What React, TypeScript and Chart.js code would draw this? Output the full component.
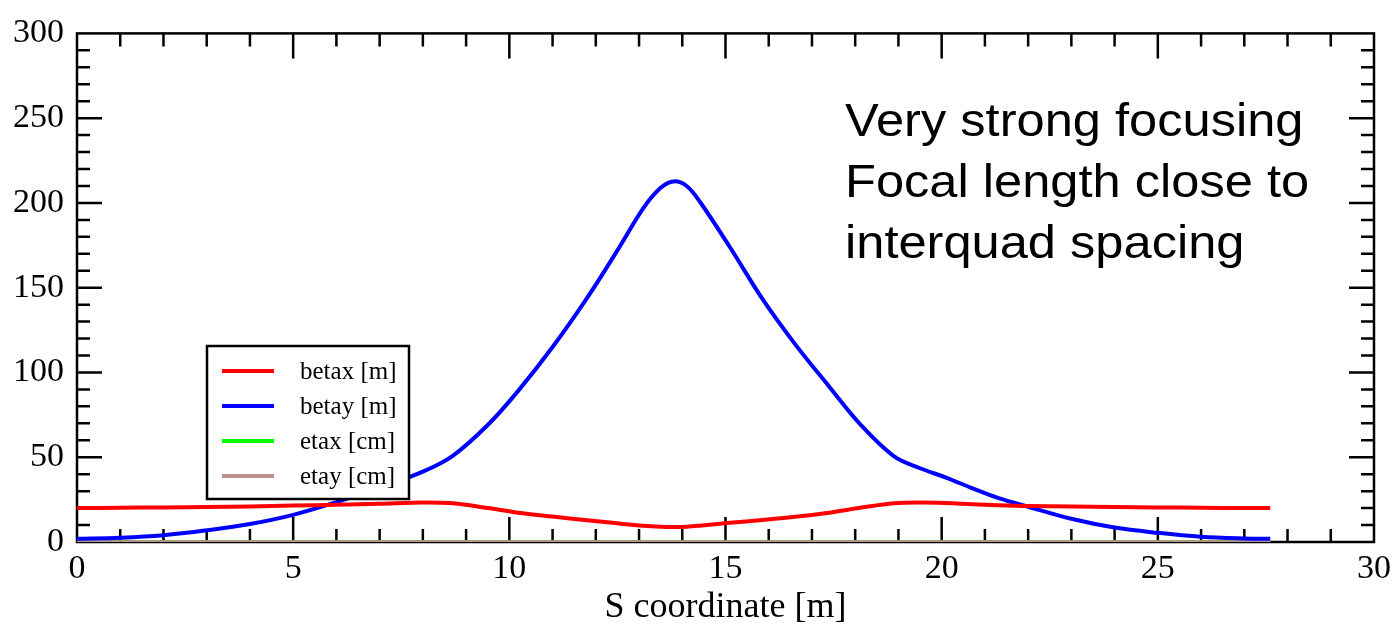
import React, { useEffect, useRef } from "react";
import { Chart, registerables } from "chart.js";

Chart.register(...registerables);

// S coordinate samples [m]
const sCoord = [0, 1, 2, 3, 4, 5, 6, 7, 8, 8.7, 9.5, 10.2, 11, 11.8, 12.5, 13.1, 13.5, 13.8, 14.1, 14.4, 15.1, 15.85, 16.6, 17.4, 18.15, 18.9, 19.5, 20.1, 20.7, 21.3, 22, 23, 24, 25, 26, 27, 27.6];
// betax [m]
const betaxValues = [20.0, 20.2, 20.4, 20.7, 21.0, 21.5, 22.0, 22.6, 23.3, 22.8, 20.0, 17.3, 15.0, 12.8, 11.0, 9.6, 9.0, 8.8, 9.0, 9.6, 11.3, 13.0, 14.9, 17.3, 20.3, 22.8, 23.3, 23.0, 22.3, 21.7, 21.2, 20.9, 20.6, 20.4, 20.2, 20.0, 20.0];
// betay [m]
const betayValues = [1.9, 2.5, 4.0, 6.9, 10.6, 16.0, 23.5, 32.0, 41.5, 51.0, 69.0, 89.0, 115.0, 144.0, 172.0, 197.0, 209.0, 212.7, 210.0, 201.0, 174.0, 143.5, 117.0, 91.6, 68.5, 50.5, 43.5, 38.0, 31.8, 26.0, 20.8, 13.7, 8.5, 5.4, 3.1, 2.1, 1.9];
// dispersion samples
const etaS = [0, 27.6];
const etaxValues = [0, 0];
const etayValues = [0, 0];

const seriesLabels = ["betax [m]", "betay [m]", "etax [cm]", "etay [cm]"];
const seriesColors = ["#ff0000", "#0000ff", "#00ff00", "#bc8f8f"];
const xAxisTitle = "S coordinate [m]";
const noteLines = ["Very strong focusing", "Focal length close to", "interquad spacing"];

const SERIF = '"Liberation Serif", "Times New Roman", serif';
const SANS = '"Liberation Sans", Arial, sans-serif';

const framePlugin = {
  id: "frameTicks",
  beforeDatasetsDraw(chart: any) {
    const { ctx, chartArea: a, scales } = chart;
    const x = scales.x;
    const y = scales.y;
    ctx.save();
    ctx.strokeStyle = "#000";
    ctx.lineWidth = 2.5;
    ctx.strokeRect(a.left, a.top, a.right - a.left, a.bottom - a.top);
    ctx.beginPath();
    for (let v = 1; v < 30; v += 1) {
      const px = x.getPixelForValue(v);
      const len = v % 5 === 0 ? 25 : 13;
      ctx.moveTo(px, a.bottom);
      ctx.lineTo(px, a.bottom - len);
      ctx.moveTo(px, a.top);
      ctx.lineTo(px, a.top + len);
    }
    for (let v = 10; v < 300; v += 10) {
      const py = y.getPixelForValue(v);
      const len = v % 50 === 0 ? 25 : 13;
      ctx.moveTo(a.left, py);
      ctx.lineTo(a.left + len, py);
      ctx.moveTo(a.right, py);
      ctx.lineTo(a.right - len, py);
    }
    ctx.stroke();
    ctx.restore();
  },
};

const legendPlugin = {
  id: "boxLegend",
  afterDatasetsDraw(chart: any) {
    const { ctx } = chart;
    const left = 207, top = 346, right = 409, bottom = 499;
    ctx.save();
    ctx.fillStyle = "#fff";
    ctx.fillRect(left, top, right - left, bottom - top);
    ctx.strokeStyle = "#000";
    ctx.lineWidth = 2.5;
    ctx.strokeRect(left, top, right - left, bottom - top);
    ctx.font = `25px ${SERIF}`;
    ctx.textBaseline = "middle";
    ctx.textAlign = "left";
    chart.data.datasets.forEach((ds: any, i: number) => {
      const yy = 371 + i * 35;
      ctx.strokeStyle = ds.borderColor;
      ctx.lineWidth = 4;
      ctx.beginPath();
      ctx.moveTo(222, yy);
      ctx.lineTo(274, yy);
      ctx.stroke();
      ctx.fillStyle = "#000";
      ctx.fillText(ds.label, 300, yy + 1);
    });
    ctx.restore();
  },
};

const notePlugin = {
  id: "note",
  afterDraw(chart: any) {
    const { ctx } = chart;
    ctx.save();
    ctx.fillStyle = "#000";
    ctx.font = `46px ${SANS}`;
    ctx.textBaseline = "alphabetic";
    ctx.textAlign = "left";
    noteLines.forEach((line, i) => {
      ctx.save();
      ctx.translate(845, 136 + i * 61);
      ctx.scale(1.1, 1);
      ctx.fillText(line, 0, 0);
      ctx.restore();
    });
    ctx.restore();
  },
};

export default function App() {
  const canvasRef = useRef<HTMLCanvasElement | null>(null);

  useEffect(() => {
    const canvas = canvasRef.current;
    if (!canvas) return;
    const toPts = (xs: number[], ys: number[]) => xs.map((s, i) => ({ x: s, y: ys[i] }));
    const chart = new Chart(canvas, {
      type: "line",
      data: {
        datasets: [
          { label: seriesLabels[0], data: toPts(sCoord, betaxValues), borderColor: seriesColors[0], borderWidth: 4, pointRadius: 0, tension: 0.35, fill: false, order: 1 },
          { label: seriesLabels[1], data: toPts(sCoord, betayValues), borderColor: seriesColors[1], borderWidth: 4, pointRadius: 0, tension: 0.35, fill: false, order: 2 },
          { label: seriesLabels[2], data: toPts(etaS, etaxValues), borderColor: seriesColors[2], borderWidth: 3.5, pointRadius: 0, fill: false, order: 4 },
          { label: seriesLabels[3], data: toPts(etaS, etayValues), borderColor: seriesColors[3], borderWidth: 3.5, pointRadius: 0, fill: false, order: 3 },
        ],
      },
      options: {
        animation: false,
        responsive: false,
        maintainAspectRatio: false,
        layout: { padding: { top: 22, right: 22, left: 0, bottom: 0 } },
        plugins: {
          legend: { display: false },
          tooltip: { enabled: false },
          title: { display: false },
        },
        scales: {
          x: {
            type: "linear",
            min: 0,
            max: 30,
            grid: { display: false, drawTicks: false },
            border: { display: false },
            ticks: { stepSize: 5, color: "#000", padding: 7, font: { family: SERIF, size: 34 }, maxRotation: 0 },
            title: { display: true, text: xAxisTitle, color: "#000", padding: { top: 0, bottom: 0 }, font: { family: SERIF, size: 36, lineHeight: 0.9 } },
            afterFit: (scale: any) => { scale.height = 82; },
          },
          y: {
            type: "linear",
            min: 0,
            max: 300,
            grid: { display: false, drawTicks: false },
            border: { display: false },
            ticks: { stepSize: 50, color: "#000", padding: 13, font: { family: SERIF, size: 34 } },
            afterFit: (scale: any) => { scale.width = 77; },
          },
        },
      } as any,
      plugins: [framePlugin, legendPlugin, notePlugin],
    });
    return () => chart.destroy();
  }, []);

  return (
    <div style={{ position: "fixed", left: 0, top: 0, width: 1398, height: 624, background: "#fff" }}>
      <canvas ref={canvasRef} width={1398} height={624} style={{ display: "block", width: 1398, height: 624 }} />
    </div>
  );
}
